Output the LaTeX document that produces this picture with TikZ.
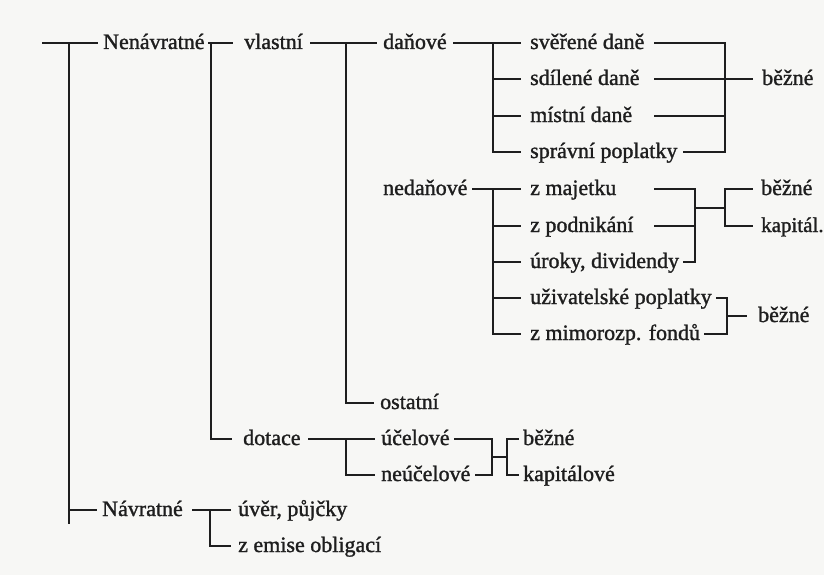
\documentclass[tikz,border=0pt]{standalone}
\usepackage{fontspec}
\setmainfont{LiberationSerif}[Extension=.ttf, UprightFont=*-Regular, BoldFont=*-Bold, FakeBold=1.3]
\definecolor{paper}{HTML}{F7F7F5}
\definecolor{ink}{HTML}{1E1E1E}
\begin{document}
\begin{tikzpicture}[x=1pt,y=-1pt,
  lbl/.style={inner sep=0pt, anchor=west, text height=16pt, text depth=4pt,
    text=ink, font=\fontsize{22}{26}\selectfont},
  br/.style={draw=ink, line width=1.9pt, line cap=rect, line join=miter}]

% page
\fill[paper] (0,0) rectangle (824,575);
\useasboundingbox (0,0) rectangle (824,575);

% ---- labels ----
\node[lbl] (nen)  at (103,43)  {Nenávratné};
\node[lbl] (vla)  at (244,43)  {vlastní};
\node[lbl] (dan)  at (383,43)  {daňové};
\node[lbl] (sve)  at (530,43)  {svěřené daně};
\node[lbl] (sdi)  at (530,79)  {sdílené daně};
\node[lbl] (mis)  at (530,116) {místní daně};
\node[lbl] (spr)  at (530,152) {správní poplatky};
\node[lbl] (bz1)  at (762,79)  {běžné};
\node[lbl] (ned)  at (383,189) {nedaňové};
\node[lbl] (maj)  at (530,189) {z majetku};
\node[lbl] (pod)  at (530,226) {z podnikání};
\node[lbl] (uro)  at (530,262) {úroky, dividendy};
\node[lbl] (uzi)  at (530,298) {uživatelské poplatky};
\node[lbl] (mim)  at (530,334) {z mimorozp. fondů};
\node[lbl] (bz2)  at (761,189) {běžné};
\node[lbl, font=\fontsize{21}{25}\selectfont] (kap1) at (761,226) {kapitál.};
\node[lbl] (bz3)  at (758,316) {běžné};
\node[lbl] (ost)  at (380,403) {ostatní};
\node[lbl] (dot)  at (243,439) {dotace};
\node[lbl] (uce)  at (381,439) {účelové};
\node[lbl] (neu)  at (381,475) {neúčelové};
\node[lbl] (bz4)  at (523,439) {běžné};
\node[lbl] (kap2) at (523,475) {kapitálové};
\node[lbl] (nav)  at (102,510) {Návratné};
\node[lbl] (uve)  at (238,510) {úvěr, půjčky};
\node[lbl] (emi)  at (238,546) {z emise obligací};

% ---- junction points ----
\coordinate (rootL) at (43,43);
\coordinate (rootJ) at (69,43);
\coordinate (rootB) at (69,523);
\coordinate (vlJ)   at (211,43);
\coordinate (daJ)   at (346,43);
\coordinate (lfJ)   at (493,43);
\coordinate (ndJ)   at (493,189);
\coordinate (rtJ)   at (725,43);
\coordinate (pkJ)   at (695,189);
\coordinate (bkJ)   at (725,189);
\coordinate (uzJ)   at (727,298);
\coordinate (dtJ)   at (346,439);
\coordinate (ucJ)   at (492,439);
\coordinate (bkJ2)  at (507,439);
\coordinate (nvJ)   at (210,510);

% ---- root ----
\draw[br] (rootL) -- ([xshift=-6pt]nen.west);
\draw[br] (rootJ) -- (rootB);
\draw[br] (rootJ |- nav.west) -- ([xshift=-6pt]nav.west);

% ---- Nenávratné -> vlastní / dotace ----
\draw[br] ([xshift=4pt]nen.east) -- ([xshift=-12pt]vla.west);
\draw[br] (vlJ) |- ([xshift=-12pt]dot.west);

% ---- vlastní -> daňové / nedaňové / ostatní ----
\draw[br] ([xshift=8pt]vla.east) -- ([xshift=-7pt]dan.west);
\draw[br] (daJ) |- ([xshift=-7pt]ost.west);

% ---- daňové -> taxes ----
\draw[br] ([xshift=7pt]dan.east) -- ([xshift=-10pt]sve.west);
\draw[br] (lfJ) |- ([xshift=-10pt]spr.west);
\draw[br] (lfJ |- sdi.west) -- ([xshift=-10pt]sdi.west);
\draw[br] (lfJ |- mis.west) -- ([xshift=-10pt]mis.west);

% ---- taxes -> běžné ----
\draw[br] (655,43) -- (rtJ) -- (rtJ |- spr.west) -- ([xshift=6pt]spr.east);
\draw[br] (655,79) -- ([xshift=-10pt]bz1.west);
\draw[br] (655,116) -- (rtJ |- mis.west);

% ---- nedaňové -> items ----
\draw[br] ([xshift=5pt]ned.east) -- ([xshift=-10pt]maj.west);
\draw[br] (ndJ) |- ([xshift=-10pt]mim.west);
\draw[br] (ndJ |- pod.west) -- ([xshift=-10pt]pod.west);
\draw[br] (ndJ |- uro.west) -- ([xshift=-10pt]uro.west);
\draw[br] (ndJ |- uzi.west) -- ([xshift=-10pt]uzi.west);

% ---- items -> běžné / kapitál. ----
\draw[br] (655,189) -- (pkJ) -- (pkJ |- uro.west) -- ([xshift=5pt]uro.east);
\draw[br] (655,226) -- (pkJ |- pod.west);
\draw[br] (695,208) -- (725,208);
\draw[br] ([xshift=-9pt]bz2.west) -- (bkJ) -- (bkJ |- kap1.west) -- ([xshift=-9pt]kap1.west);

% ---- fees -> běžné ----
\draw[br] ([xshift=5pt]uzi.east) -- (uzJ) -- (uzJ |- mim.west) -- ([xshift=5pt]mim.east);
\draw[br] (uzJ |- bz3.west) -- ([xshift=-12pt]bz3.west);

% ---- dotace ----
\draw[br] ([xshift=8pt]dot.east) -- ([xshift=-7pt]uce.west);
\draw[br] (dtJ) |- ([xshift=-7pt]neu.west);
\draw[br] ([xshift=5pt]uce.east) -- (ucJ) -- (ucJ |- neu.west) -- ([xshift=5pt]neu.east);
\draw[br] (492,457) -- (507,457);
\draw[br] ([xshift=-5pt]bz4.west) -- (bkJ2) -- (bkJ2 |- kap2.west) -- ([xshift=-5pt]kap2.west);

% ---- Návratné ----
\draw[br] ([xshift=10pt]nav.east) -- ([xshift=-8pt]uve.west);
\draw[br] (nvJ) |- ([xshift=-8pt]emi.west);

\end{tikzpicture}
\end{document}
